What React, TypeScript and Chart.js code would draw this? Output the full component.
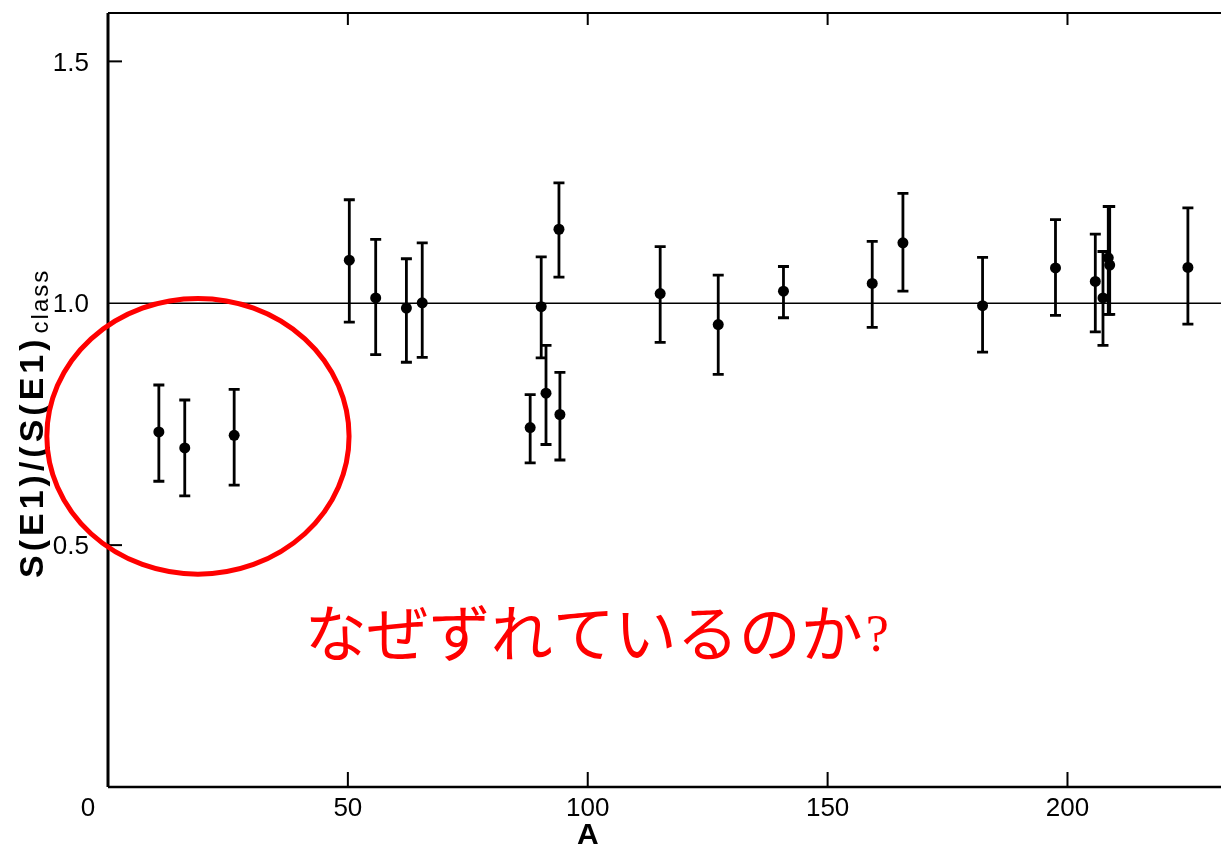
import { useEffect, useRef } from "react";
import { Chart, registerables } from "chart.js";

Chart.register(...registerables);

// Mass number A of each nucleus
const massNumbers = [
  10.6, 16.0, 26.3, 50.3, 55.8, 62.2, 65.5, 88.0, 90.3, 91.3, 94.0, 94.2,
  115.1, 127.2, 140.8, 159.3, 165.7, 182.3, 197.5, 205.8, 207.4, 208.5, 208.8,
  225.1,
];
// Measured strength ratio S(E1)/S(E1)_class
const ratios = [
  0.734, 0.701, 0.727, 1.089, 1.011, 0.99, 1.001, 0.743, 0.993, 0.814, 1.153,
  0.77, 1.02, 0.956, 1.025, 1.041, 1.125, 0.995, 1.073, 1.045, 1.011, 1.094,
  1.079, 1.074,
];
// Lower and upper ends of the error bars
const errLow = [
  0.632, 0.602, 0.624, 0.961, 0.894, 0.878, 0.888, 0.67, 0.887, 0.708, 1.054,
  0.676, 0.919, 0.853, 0.97, 0.95, 1.025, 0.899, 0.975, 0.941, 0.913, 0.977,
  0.977, 0.957,
];
const errHigh = [
  0.831, 0.8, 0.822, 1.214, 1.132, 1.092, 1.125, 0.811, 1.096, 0.913, 1.249,
  0.857, 1.117, 1.058, 1.076, 1.128, 1.227, 1.095, 1.173, 1.143, 1.107, 1.2,
  1.2, 1.197,
];

const xTicks = [0, 50, 100, 150, 200];
const yTicks = [0.5, 1.0, 1.5];
const referenceRatio = 1.0;

const xTitle = "A";
const yTitleMain = "S(E1)/(S(E1)";
const yTitleSub = "class";
const questionText = "なぜずれているのか";
const questionMark = "?";

// Highlight ring around the light nuclei (data coordinates)
const ringCenter = { a: 18.75, r: 0.725 };
const ringRadius = { a: 31.5, r: 0.285 };
const questionAnchor = { a: 41.0, r: 0.318 };

const RED = "#ff0000";
const INK = "#000000";

const decorations = {
  id: "decorations",
  beforeDatasetsDraw(chart: any) {
    const { ctx, chartArea, scales } = chart;
    const xs = scales.x;
    const ys = scales.y;
    ctx.save();
    // horizontal reference line at ratio 1
    ctx.strokeStyle = INK;
    ctx.lineWidth = 1.5;
    const yRef = ys.getPixelForValue(referenceRatio);
    ctx.beginPath();
    ctx.moveTo(chartArea.left, yRef);
    ctx.lineTo(chartArea.right, yRef);
    ctx.stroke();

    // error bars with caps
    ctx.lineWidth = 2.8;
    const cap = 5.5;
    massNumbers.forEach((a, i) => {
      const px = xs.getPixelForValue(a);
      const lo = ys.getPixelForValue(errLow[i]);
      const hi = ys.getPixelForValue(errHigh[i]);
      ctx.beginPath();
      ctx.moveTo(px, lo);
      ctx.lineTo(px, hi);
      ctx.moveTo(px - cap, lo);
      ctx.lineTo(px + cap, lo);
      ctx.moveTo(px - cap, hi);
      ctx.lineTo(px + cap, hi);
      ctx.stroke();
    });
    ctx.restore();
  },
  afterDraw(chart: any) {
    const { ctx, chartArea, scales } = chart;
    const xs = scales.x;
    const ys = scales.y;
    const { left, right, top, bottom } = chartArea;
    ctx.save();
    ctx.strokeStyle = INK;
    ctx.fillStyle = INK;

    // frame: left, bottom and top edges
    ctx.lineWidth = 3;
    ctx.beginPath();
    ctx.moveTo(left, top);
    ctx.lineTo(left, bottom);
    ctx.stroke();
    ctx.lineWidth = 2.5;
    ctx.beginPath();
    ctx.moveTo(left, bottom);
    ctx.lineTo(right, bottom);
    ctx.stroke();
    ctx.lineWidth = 2;
    ctx.beginPath();
    ctx.moveTo(left, top);
    ctx.lineTo(right, top);
    ctx.stroke();

    // inward tick marks
    ctx.lineWidth = 2;
    xTicks.forEach((v) => {
      if (v === 0) return;
      const px = xs.getPixelForValue(v);
      ctx.beginPath();
      ctx.moveTo(px, bottom);
      ctx.lineTo(px, bottom - 15);
      ctx.moveTo(px, top);
      ctx.lineTo(px, top + 12);
      ctx.stroke();
    });
    yTicks.forEach((v) => {
      if (v === referenceRatio) return;
      const py = ys.getPixelForValue(v);
      ctx.beginPath();
      ctx.moveTo(left, py);
      ctx.lineTo(left + 14, py);
      ctx.stroke();
    });

    // tick labels
    ctx.font = "26px 'Liberation Sans', Arial, sans-serif";
    ctx.textAlign = "center";
    ctx.textBaseline = "middle";
    xTicks.forEach((v) => {
      const px = xs.getPixelForValue(v) + (v === 0 ? -20 : 0);
      ctx.fillText(String(v), px, bottom + 22);
    });
    ctx.textAlign = "right";
    yTicks.forEach((v) => {
      const py = ys.getPixelForValue(v);
      ctx.fillText(v.toFixed(1), left - 19, py + 2);
    });

    // x axis title
    ctx.font = "bold 30px 'Liberation Sans', Arial, sans-serif";
    ctx.textAlign = "center";
    ctx.fillText(xTitle, xs.getPixelForValue(100), bottom + 49);

    // rotated y axis title with subscript
    ctx.save();
    ctx.translate(43, 578);
    ctx.rotate(-Math.PI / 2);
    ctx.textAlign = "left";
    ctx.textBaseline = "alphabetic";
    ctx.font = "bold 34px 'Liberation Sans', Arial, sans-serif";
    (ctx as any).letterSpacing = "4px";
    ctx.fillText(yTitleMain, 0, 0);
    const mainW = ctx.measureText(yTitleMain).width;
    ctx.font = "24px 'Liberation Sans', Arial, sans-serif";
    (ctx as any).letterSpacing = "2px";
    ctx.fillText(yTitleSub, mainW + 2, 5);
    (ctx as any).letterSpacing = "0px";
    ctx.restore();

    // red highlight ring
    const cx = xs.getPixelForValue(ringCenter.a);
    const cy = ys.getPixelForValue(ringCenter.r);
    const rx = xs.getPixelForValue(ringCenter.a + ringRadius.a) - cx;
    const ry = cy - ys.getPixelForValue(ringCenter.r + ringRadius.r);
    ctx.strokeStyle = RED;
    ctx.lineWidth = 5;
    ctx.beginPath();
    ctx.ellipse(cx, cy, rx, ry, 0, 0, Math.PI * 2);
    ctx.stroke();

    // red question
    ctx.fillStyle = RED;
    ctx.textAlign = "left";
    ctx.textBaseline = "middle";
    const qx = xs.getPixelForValue(questionAnchor.a);
    const qy = ys.getPixelForValue(questionAnchor.r);
    ctx.font = "62px 'Noto Sans CJK JP', sans-serif";
    ctx.fillText(questionText, qx, qy);
    const qw = ctx.measureText(questionText).width;
    ctx.font = "52px 'Liberation Serif', 'DejaVu Serif', serif";
    ctx.fillText(questionMark, qx + qw + 3, qy + 4);
    ctx.restore();
  },
};

export default function App() {
  const canvasRef = useRef<HTMLCanvasElement | null>(null);

  useEffect(() => {
    const canvas = canvasRef.current;
    if (!canvas) return;
    const chart = new Chart(canvas, {
      type: "scatter",
      data: {
        datasets: [
          {
            data: massNumbers.map((a, i) => ({ x: a, y: ratios[i] })),
            backgroundColor: INK,
            borderColor: INK,
            pointRadius: 5.5,
            pointHoverRadius: 5.5,
            borderWidth: 0,
          },
        ],
      },
      options: {
        responsive: false,
        animation: false,
        devicePixelRatio: 1,
        layout: {
          autoPadding: false,
          padding: { left: 108, top: 13, right: 0, bottom: 63 },
        },
        scales: {
          x: { type: "linear", min: 0, max: 232, display: false },
          y: { type: "linear", min: 0, max: 1.6, display: false },
        },
        plugins: {
          legend: { display: false },
          tooltip: { enabled: false },
        },
      },
      plugins: [decorations],
    });
    return () => chart.destroy();
  }, []);

  return (
    <div
      style={{
        position: "fixed",
        left: 0,
        top: 0,
        width: 1221,
        height: 850,
        background: "#ffffff",
      }}
    >
      <canvas ref={canvasRef} width={1221} height={850} />
    </div>
  );
}
